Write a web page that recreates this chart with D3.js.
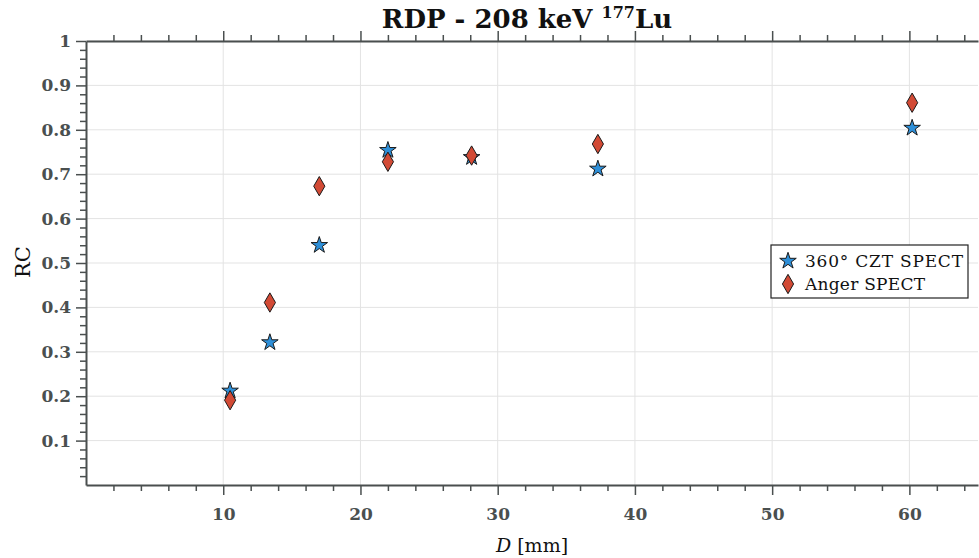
<!DOCTYPE html>
<html lang="en">
<head>
<meta charset="UTF-8">
<title>RDP - 208 keV 177Lu</title>
<script src="https://d3js.org/d3.v7.min.js"></script>
<style>
	body{margin:0;background:#fff}
	text{font-family:"DejaVu Serif","Liberation Serif",serif}
</style>
</head>
<body>
<svg id="chart" width="979" height="558"></svg>
<script>
	// diameters of the spheres (mm)
	var diam = [10.5, 13.4, 17, 22, 28.1, 37.3, 60.2]
	var czt = [0.212, 0.321, 0.540, 0.754, 0.738, 0.712, 0.804]
	var anger = [0.191, 0.411, 0.673, 0.728, 0.742, 0.768, 0.861]
	var xTicks = [10, 20, 30, 40, 50, 60]
	var yTicks = [0.1, 0.2, 0.3, 0.4, 0.5, 0.6, 0.7, 0.8, 0.9, 1]

	var marge = {top:41, right:1, bottom:73, left:86}
	var svg = d3.select("#chart")
	var width = +svg.attr("width") - marge.left - marge.right
	var height = +svg.attr("height") - marge.top - marge.bottom
	var g = svg.append("g").attr("transform","translate("+marge.left+","+marge.top+")")
	var axisCol = "#4a4f4f"

	var x = d3.scaleLinear().domain([0, 65]).range([0, width])
	var y = d3.scaleLinear().domain([0, 1]).range([height, 0])

	// grid
	g.selectAll(".gx").data(xTicks).enter().append("line")
		.attr("x1", d => x(d)).attr("x2", d => x(d)).attr("y1", 0).attr("y2", height)
		.attr("stroke", "#e3e3e3").attr("stroke-width", 1)
	g.selectAll(".gy").data(yTicks).enter().append("line")
		.attr("x1", 0).attr("x2", width).attr("y1", d => y(d)).attr("y2", d => y(d))
		.attr("stroke", "#e3e3e3").attr("stroke-width", 1)

	// minor ticks
	var xMinor = d3.range(0, 65.01, 2).filter(d => d % 10 != 0)
	var yMinor = d3.range(0, 1.001, 0.02).filter(d => Math.abs(d*10 - Math.round(d*10)) > 0.01)

	function styleAxis(sel){
		sel.select(".domain").attr("stroke", axisCol).attr("stroke-width", 2)
		sel.selectAll(".tick line").attr("stroke", axisCol).attr("stroke-width", 1.5)
	}
	function minor(s){
		s.select(".domain").remove()
		s.selectAll("line").attr("stroke", axisCol).attr("stroke-width", 1.5)
	}

	var xa = g.append("g").attr("transform","translate(0,"+height+")")
		.call(d3.axisBottom(x).tickValues(xTicks).tickSize(10).tickPadding(13).tickSizeOuter(0))
	styleAxis(xa)
	g.append("g").attr("transform","translate(0,"+height+")")
		.call(d3.axisBottom(x).tickValues(xMinor).tickSize(6).tickFormat("").tickSizeOuter(0))
		.call(minor)

	var xt = g.append("g")
		.call(d3.axisTop(x).tickValues(xTicks).tickSize(10).tickFormat("").tickSizeOuter(0))
	styleAxis(xt)
	g.append("g")
		.call(d3.axisTop(x).tickValues(xMinor).tickSize(6).tickFormat("").tickSizeOuter(0))
		.call(minor)

	var ya = g.append("g")
		.call(d3.axisLeft(y).tickValues(yTicks).tickSize(10).tickPadding(5).tickSizeOuter(0)
			.tickFormat(d => d == 1 ? "1" : d3.format(".1f")(d)))
	styleAxis(ya)
	g.append("g")
		.call(d3.axisLeft(y).tickValues(yMinor).tickSize(6).tickFormat("").tickSizeOuter(0))
		.call(minor)
	g.selectAll(".tick text").attr("font-weight", "bold").attr("fill", axisCol)
		.style("font-size", "17px").style("font-family", "DejaVu Serif")

	// markers
	var star = d3.symbol().type(d3.symbolStar).size(85)
	var diamond = d3.symbol().type(d3.symbolDiamond).size(108)
	var cztCol = "#2e8fd8", angerCol = "#d24a35"

	g.selectAll(".czt").data(diam).enter().append("path")
		.attr("d", star).attr("transform", (d,i) => "translate("+x(d)+","+y(czt[i])+")")
		.attr("fill", cztCol).attr("stroke", "#1a1a1a").attr("stroke-width", 1)
	g.selectAll(".anger").data(diam).enter().append("path")
		.attr("d", diamond).attr("transform", (d,i) => "translate("+x(d)+","+y(anger[i])+")")
		.attr("fill", angerCol).attr("stroke", "#1a1a1a").attr("stroke-width", 1)

	// title
	var title = svg.append("text").attr("x", 527).attr("y", 28).attr("text-anchor", "middle")
		.attr("font-weight", "bold").attr("font-size", 26).attr("fill", "#111")
	title.append("tspan").text("RDP - 208 keV ")
	title.append("tspan").text("177").attr("font-size", 16).attr("dy", -10)
	title.append("tspan").text("Lu").attr("dy", 10)

	// axis labels
	var xl = svg.append("text").attr("x", 532).attr("y", 552).attr("text-anchor", "middle")
		.attr("font-size", 19).attr("fill", "#111")
	xl.append("tspan").text("D").attr("font-style", "italic")
	xl.append("tspan").text(" [mm]")
	svg.append("text").attr("transform", "translate(30,262) rotate(-90)").attr("text-anchor", "middle")
		.attr("font-size", 21).attr("fill", "#111").text("RC")

	// legend
	var leg = svg.append("g").attr("transform", "translate(771,245)")
	leg.append("rect").attr("width", 197).attr("height", 53).attr("fill", "#fff")
		.attr("stroke", "#222").attr("stroke-width", 1.2)
	var legItems = [["360° CZT SPECT", star, cztCol], ["Anger SPECT", diamond, angerCol]]
	legItems.forEach(function(it, i){
		leg.append("path").attr("d", it[1]).attr("transform", "translate(17,"+(16+i*23)+")")
			.attr("fill", it[2]).attr("stroke", "#1a1a1a").attr("stroke-width", 1)
		leg.append("text").attr("x", 34).attr("y", 22+i*23).attr("font-size", 17)
			.attr("textLength", i == 0 ? 158 : 120).attr("fill", "#111").text(it[0])
	})
</script>
</body>
</html>
